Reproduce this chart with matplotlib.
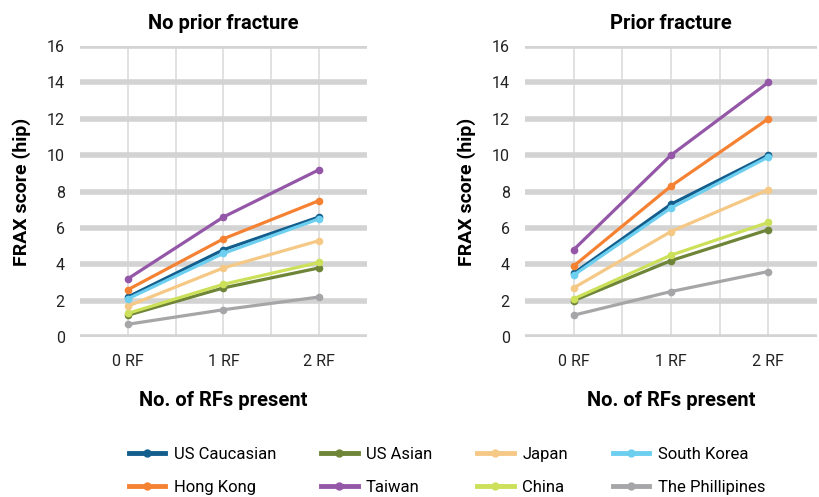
import matplotlib
matplotlib.use("Agg")
import matplotlib.pyplot as plt
from matplotlib.lines import Line2D

categories = ["0 RF", "1 RF", "2 RF"]
series_names = ["US Caucasian", "US Asian", "Japan", "South Korea",
                "Hong Kong", "Taiwan", "China", "The Phillipines"]
colors = ["#135e8c", "#6e8538", "#f5c985", "#6dcff0",
          "#f58233", "#9457a8", "#cde05a", "#a6a6a8"]

no_prior = {
    "US Caucasian": [2.2, 4.8, 6.6],
    "US Asian": [1.2, 2.7, 3.8],
    "Japan": [1.7, 3.8, 5.3],
    "South Korea": [2.1, 4.6, 6.5],
    "Hong Kong": [2.6, 5.4, 7.5],
    "Taiwan": [3.2, 6.6, 9.2],
    "China": [1.3, 2.9, 4.1],
    "The Phillipines": [0.7, 1.5, 2.2],
}
prior = {
    "US Caucasian": [3.5, 7.3, 10.0],
    "US Asian": [2.0, 4.2, 5.9],
    "Japan": [2.7, 5.8, 8.1],
    "South Korea": [3.4, 7.1, 9.9],
    "Hong Kong": [3.9, 8.3, 12.0],
    "Taiwan": [4.8, 10.0, 14.0],
    "China": [2.1, 4.5, 6.3],
    "The Phillipines": [1.2, 2.5, 3.6],
}
yticks = [0, 2, 4, 6, 8, 10, 12, 14, 16]

plt.rcParams['font.family'] = ['Roboto', 'DejaVu Sans']
fig = plt.figure(figsize=(8.2, 4.97), dpi=100)

W, H = 820, 497
def ax_rect(x0, x1, ytop, ybot):
    return [x0 / W, 1 - ybot / H, (x1 - x0) / W, (ybot - ytop) / H]

panels = [
    (ax_rect(80, 367, 46, 337), "No prior fracture", no_prior),
    (ax_rect(525, 817, 46, 337), "Prior fracture", prior),
]

draw_order = ["The Phillipines", "US Asian", "China", "Japan",
              "US Caucasian", "South Korea", "Hong Kong", "Taiwan"]

for rect, title, data in panels:
    ax = fig.add_axes(rect)
    x = list(range(len(categories)))
    ax.set_xlim(-0.5, 2.5)
    ax.set_ylim(0, 16)
    for v in yticks:
        ax.axhline(v, color="#d3d3d3", lw=4, zorder=1, solid_capstyle="butt")
    for v in [0, 0.5, 1, 1.5, 2]:
        ax.axvline(v, color="#dcdcdc", lw=1.2, zorder=0.5)
    for name in draw_order:
        c = colors[series_names.index(name)]
        ax.plot(x, data[name], color=c, lw=2.3, marker="o", ms=4.5,
                zorder=3, clip_on=False)
    ax.set_xticks(x)
    ax.set_xticklabels(categories, fontsize=11.5, color="#222222")
    ax.set_yticks(yticks)
    ax.set_yticklabels([str(v) for v in yticks], fontsize=11.5, color="#222222")
    ax.tick_params(length=0, axis="y", pad=11)
    ax.tick_params(length=0, axis="x", pad=12)
    for s in ax.spines.values():
        s.set_visible(False)
    ax.set_title(title, fontsize=14.5, fontweight="bold", pad=12)
    ax.set_ylabel("FRAX score (hip)", fontsize=14, fontweight="bold", labelpad=11)
    ax.set_xlabel("No. of RFs present", fontsize=14.5, fontweight="bold", labelpad=16)

order = [0, 4, 1, 5, 2, 6, 3, 7]
handles = [Line2D([0], [0], color=colors[i], lw=3.5, marker="o", ms=5) for i in order]
labels = [series_names[i] for i in order]
fig.legend(handles, labels, loc="center", ncol=4,
           bbox_to_anchor=(0.545, 1 - 471 / H), frameon=False, fontsize=12,
           handlelength=2.2, columnspacing=2.7, handletextpad=0.5,
           labelspacing=1.05)

fig.savefig("out.png", dpi=100)
